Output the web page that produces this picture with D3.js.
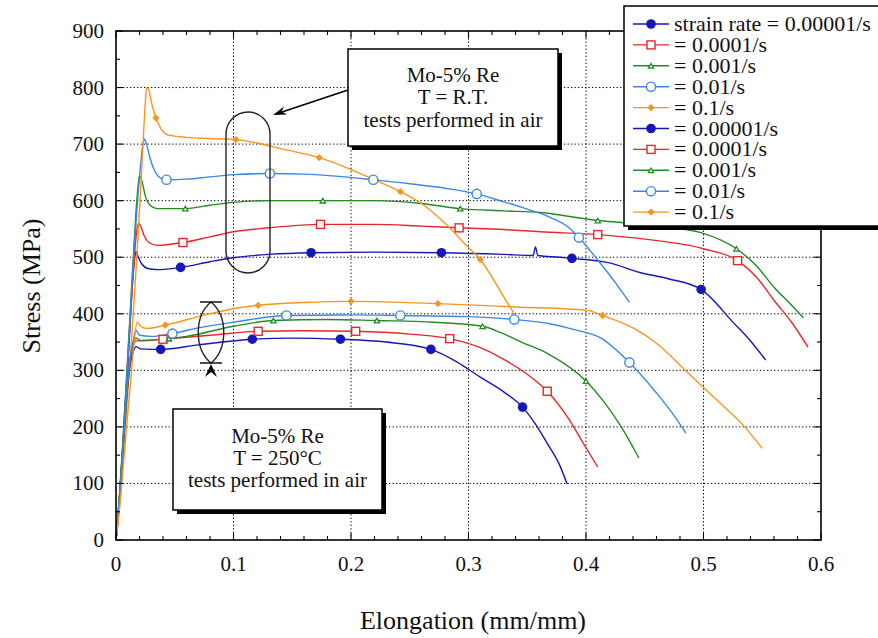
<!DOCTYPE html>
<html>
<head>
<meta charset="utf-8">
<script src="https://cdn.jsdelivr.net/npm/d3@7"></script>
<style>
  body { margin: 0; background: #fff; }
  svg, svg text { font-family: "Liberation Serif", "Tinos", "Times New Roman", Times, "DejaVu Serif", serif; }
  svg text { fill: #111; }
</style>
</head>
<body>
<svg id="chart" width="878" height="638" font-family="Liberation Serif, Times New Roman, serif"></svg>
<script>
// strain rates, one colour + symbol each
const rates = ["0.00001/s", "0.0001/s", "0.001/s", "0.01/s", "0.1/s"];
const colors = ["#1717b8", "#e8262b", "#228b22", "#3c87e6", "#f7951e"];
const symbols = ["dot", "square", "triangle", "circle", "diamond"];

const xTicks = [0, 0.1, 0.2, 0.3, 0.4, 0.5, 0.6];
const yTicks = [0, 100, 200, 300, 400, 500, 600, 700, 800, 900];

// room temperature curves [strain, stress]
const rtBlue = [[0,0],[0.003,70],[0.006,170],[0.009,270],[0.012,380],[0.014,455],[0.016,500],[0.017,510],[0.019,500],[0.022,488],[0.027,480],[0.035,478],[0.055,482],[0.08,492],[0.1,499],[0.13,505],[0.166,508],[0.22,509],[0.277,508],[0.33,505],[0.355,503],[0.357,518],[0.359,503],[0.378,500],[0.388,498],[0.42,490],[0.446,473],[0.47,462],[0.498,443],[0.526,383],[0.54,352],[0.553,318]];
const rtRed = [[0,0],[0.003,75],[0.006,175],[0.009,280],[0.012,390],[0.015,480],[0.017,535],[0.019,560],[0.021,555],[0.024,538],[0.028,526],[0.035,521],[0.057,526],[0.08,536],[0.1,545],[0.13,552],[0.174,558],[0.22,558],[0.26,555],[0.292,552],[0.33,549],[0.361,545],[0.41,540],[0.45,532],[0.5,515],[0.529,494],[0.545,465],[0.56,424],[0.575,385],[0.589,341]];
const rtGreen = [[0,0],[0.003,80],[0.006,180],[0.009,290],[0.012,400],[0.015,510],[0.017,580],[0.019,630],[0.02,644],[0.022,635],[0.025,608],[0.029,592],[0.035,586],[0.059,586],[0.08,592],[0.1,597],[0.13,600],[0.176,600],[0.22,600],[0.26,595],[0.293,586],[0.33,582],[0.361,579],[0.41,565],[0.432,561],[0.47,553],[0.497,544],[0.528,515],[0.545,485],[0.56,447],[0.575,415],[0.585,393]];
const rtLightBlue = [[0,0],[0.003,75],[0.006,170],[0.009,280],[0.012,390],[0.015,500],[0.018,590],[0.021,665],[0.023,702],[0.024,709],[0.026,700],[0.029,675],[0.033,652],[0.038,640],[0.043,637],[0.06,638],[0.08,642],[0.1,646],[0.131,648],[0.16,647],[0.19,643],[0.219,637],[0.25,630],[0.28,622],[0.307,612],[0.33,598],[0.35,585],[0.37,570],[0.385,553],[0.394,535],[0.41,495],[0.425,455],[0.437,420]];
const rtOrange = [[0,0],[0.003,60],[0.006,140],[0.009,230],[0.012,320],[0.015,410],[0.018,510],[0.021,620],[0.023,700],[0.025,775],[0.026,800],[0.028,796],[0.03,775],[0.034,746],[0.038,728],[0.045,716],[0.06,712],[0.08,710],[0.102,708],[0.12,702],[0.14,692],[0.173,676],[0.2,655],[0.22,637],[0.242,616],[0.26,595],[0.28,560],[0.3,517],[0.31,496],[0.32,465],[0.33,430],[0.342,390]];

// 250 C curves
const htBlue = [[0,0],[0.003,70],[0.006,160],[0.009,250],[0.012,310],[0.015,335],[0.017,342],[0.021,338],[0.038,337],[0.07,345],[0.116,355],[0.15,357],[0.191,355],[0.23,350],[0.268,337],[0.29,315],[0.31,288],[0.33,262],[0.346,235],[0.357,205],[0.367,171],[0.377,135],[0.384,99]];
const htRed = [[0,0],[0.003,75],[0.006,165],[0.009,255],[0.012,315],[0.015,345],[0.017,352],[0.021,352],[0.04,355],[0.08,362],[0.121,369],[0.16,370],[0.204,369],[0.25,364],[0.284,356],[0.31,340],[0.327,323],[0.35,293],[0.367,263],[0.385,215],[0.398,170],[0.41,129]];
const htGreen = [[0,0],[0.003,80],[0.006,170],[0.009,260],[0.012,320],[0.015,350],[0.017,357],[0.021,353],[0.045,356],[0.06,360],[0.1,378],[0.134,388],[0.18,390],[0.222,388],[0.27,385],[0.312,378],[0.327,367],[0.345,350],[0.367,330],[0.4,281],[0.415,245],[0.43,200],[0.445,145]];
const htLightBlue = [[0,0],[0.003,75],[0.006,165],[0.009,255],[0.012,320],[0.014,345],[0.017,371],[0.02,362],[0.03,360],[0.048,365],[0.07,375],[0.1,385],[0.145,397],[0.2,398],[0.242,397],[0.3,395],[0.339,390],[0.37,382],[0.39,372],[0.412,358],[0.437,314],[0.46,260],[0.475,220],[0.485,189]];
const htOrange = [[0,0],[0.003,55],[0.006,125],[0.009,200],[0.012,270],[0.015,340],[0.018,385],[0.021,378],[0.026,374],[0.042,380],[0.07,395],[0.1,409],[0.121,415],[0.16,420],[0.2,422],[0.274,418],[0.34,412],[0.401,406],[0.414,397],[0.44,375],[0.46,348],[0.486,297],[0.51,250],[0.535,200],[0.55,162]];

// marker positions
const rtBlueMarks = [[0.055,482],[0.166,508],[0.277,508],[0.388,498],[0.498,443]];
const rtRedMarks = [[0.057,526],[0.174,558],[0.292,552],[0.41,540],[0.529,494]];
const rtGreenMarks = [[0.059,586],[0.176,600],[0.293,586],[0.41,565],[0.528,515]];
const rtLightBlueMarks = [[0.043,637],[0.131,648],[0.219,637],[0.307,612],[0.394,535]];
const rtOrangeMarks = [[0.034,746],[0.102,708],[0.173,676],[0.242,616],[0.31,496]];
const htBlueMarks = [[0.038,337],[0.116,355],[0.191,355],[0.268,337],[0.346,235]];
const htRedMarks = [[0.04,355],[0.121,369],[0.204,369],[0.284,356],[0.367,263]];
const htGreenMarks = [[0.045,356],[0.134,388],[0.222,388],[0.312,378],[0.4,281]];
const htLightBlueMarks = [[0.048,365],[0.145,397],[0.242,397],[0.339,390],[0.437,314]];
const htOrangeMarks = [[0.042,380],[0.121,415],[0.2,422],[0.274,418],[0.414,397]];

const legendLabels = ["strain rate = 0.00001/s", "= 0.0001/s", "= 0.001/s", "= 0.01/s", "= 0.1/s",
                      "= 0.00001/s", "= 0.0001/s", "= 0.001/s", "= 0.01/s", "= 0.1/s"];

const series = [
  {k: 0, d: rtBlue, m: rtBlueMarks}, {k: 1, d: rtRed, m: rtRedMarks}, {k: 2, d: rtGreen, m: rtGreenMarks},
  {k: 3, d: rtLightBlue, m: rtLightBlueMarks}, {k: 4, d: rtOrange, m: rtOrangeMarks},
  {k: 0, d: htBlue, m: htBlueMarks}, {k: 1, d: htRed, m: htRedMarks}, {k: 2, d: htGreen, m: htGreenMarks},
  {k: 3, d: htLightBlue, m: htLightBlueMarks}, {k: 4, d: htOrange, m: htOrangeMarks}
];

const L = 116, R = 821, T = 31, B = 540;
const x = d3.scaleLinear().domain([0, 0.6]).range([L, R]);
const y = d3.scaleLinear().domain([0, 900]).range([B, T]);

const svg = d3.select("#chart");

// dotted grid
const grid = svg.append("g");
grid.selectAll(".vx").data(xTicks.slice(1, -1)).join("line")
  .attr("x1", d => x(d)).attr("x2", d => x(d)).attr("y1", B).attr("y2", T)
  .attr("stroke", "#000").attr("stroke-width", 1).attr("stroke-dasharray", "1.3,2.2");
grid.selectAll(".hy").data(yTicks.slice(1, -1)).join("line")
  .attr("x1", L).attr("x2", R).attr("y1", d => y(d)).attr("y2", d => y(d))
  .attr("stroke", "#000").attr("stroke-width", 1).attr("stroke-dasharray", "1.3,2.2");

// curves
const line = d3.line().x(d => x(d[0])).y(d => y(d[1])).curve(d3.curveMonotoneX);
svg.append("g").selectAll("path").data(series).join("path")
  .attr("d", s => line(s.d))
  .attr("fill", "none")
  .attr("stroke", s => colors[s.k])
  .attr("stroke-width", 1.4)
  .attr("stroke-linejoin", "round");

function drawMarker(g, k, cx, cy) {
  const c = colors[k];
  const t = symbols[k];
  if (t === "dot") {
    g.append("circle").attr("cx", cx).attr("cy", cy).attr("r", 4.8).attr("fill", c);
  } else if (t === "circle") {
    g.append("circle").attr("cx", cx).attr("cy", cy).attr("r", 4.6)
      .attr("fill", "#fff").attr("stroke", c).attr("stroke-width", 1.4);
  } else if (t === "square") {
    g.append("rect").attr("x", cx - 4).attr("y", cy - 4).attr("width", 8).attr("height", 8)
      .attr("fill", "#fff").attr("stroke", c).attr("stroke-width", 1.4);
  } else if (t === "triangle") {
    g.append("path").attr("transform", `translate(${cx},${cy + 0.8})`)
      .attr("d", d3.symbol(d3.symbolTriangle2, 20)())
      .attr("fill", "#fff").attr("stroke", c).attr("stroke-width", 1.3);
  } else {
    g.append("path").attr("transform", `translate(${cx},${cy})`)
      .attr("d", d3.symbol(d3.symbolDiamond2, 34)())
      .attr("fill", c);
  }
}

const mk = svg.append("g");
series.forEach(s => s.m.forEach(p => drawMarker(mk, s.k, x(p[0]), y(p[1]))));

// frame and ticks
svg.append("rect").attr("x", L).attr("y", T).attr("width", R - L).attr("height", B - T)
  .attr("fill", "none").attr("stroke", "#000").attr("stroke-width", 1.6);

const ax = svg.append("g").attr("stroke", "#000").attr("stroke-width", 1.1);
const xMinor = d3.range(0, 31).map(i => i * 0.02);
const yMinor = d3.range(0, 19).map(i => i * 50);
xMinor.forEach((v, i) => {
  const len = i % 5 === 0 ? 7 : 4;
  ax.append("line").attr("x1", x(v)).attr("x2", x(v)).attr("y1", B).attr("y2", B - len);
  ax.append("line").attr("x1", x(v)).attr("x2", x(v)).attr("y1", T).attr("y2", T + len);
});
yMinor.forEach((v, i) => {
  const len = i % 2 === 0 ? 7 : 4;
  ax.append("line").attr("y1", y(v)).attr("y2", y(v)).attr("x1", L).attr("x2", L + len);
  ax.append("line").attr("y1", y(v)).attr("y2", y(v)).attr("x1", R).attr("x2", R - len);
});

svg.append("g").selectAll("text").data(xTicks).join("text")
  .attr("x", d => x(d)).attr("y", 571).attr("text-anchor", "middle")
  .attr("font-size", 21).text(d => d === 0 ? "0" : d3.format(".1f")(d));
svg.append("g").selectAll("text").data(yTicks).join("text")
  .attr("x", 104).attr("y", d => y(d) + 7).attr("text-anchor", "end")
  .attr("font-size", 21).text(d => d);

svg.append("text").attr("x", 473).attr("y", 629).attr("text-anchor", "middle")
  .attr("font-size", 26).text("Elongation (mm/mm)");
svg.append("text").attr("transform", "translate(40,286) rotate(-90)").attr("text-anchor", "middle")
  .attr("font-size", 26).text("Stress (MPa)");

// annotation boxes
function box(x0, y0, w, h, lines, lineY) {
  svg.append("rect").attr("x", x0 + 4).attr("y", y0 + 4).attr("width", w).attr("height", h).attr("fill", "#000");
  svg.append("rect").attr("x", x0).attr("y", y0).attr("width", w).attr("height", h)
    .attr("fill", "#fff").attr("stroke", "#000").attr("stroke-width", 1.5);
  lines.forEach((t, i) => svg.append("text").attr("x", x0 + w / 2).attr("y", lineY[i])
    .attr("text-anchor", "middle").attr("font-size", 21).text(t));
}
box(348, 49, 210, 97, ["Mo-5% Re", "T = R.T.", "tests performed in air"], [82, 104, 127]);
box(173, 409, 209, 101, ["Mo-5% Re", "T = 250°C", "tests performed in air"], [443, 465, 487]);

// RT stadium + arrow
svg.append("rect").attr("x", 226).attr("y", 112).attr("width", 44).attr("height", 161)
  .attr("rx", 22).attr("ry", 22).attr("fill", "none").attr("stroke", "#222").attr("stroke-width", 1.4);
svg.append("line").attr("x1", 348).attr("y1", 90).attr("x2", 282).attr("y2", 112)
  .attr("stroke", "#000").attr("stroke-width", 1.4);
svg.append("path").attr("d", "M273,115 L284,106.5 L281.5,111.5 L287,114.5 Z").attr("fill", "#000");

// 250 C lens marker
svg.append("path").attr("d", "M211,302 C194,316 194,349 211,363 C228,349 228,316 211,302")
  .attr("fill", "none").attr("stroke", "#222").attr("stroke-width", 1.4);
svg.append("line").attr("x1", 200).attr("x2", 222).attr("y1", 302).attr("y2", 302).attr("stroke", "#000").attr("stroke-width", 1.4);
svg.append("line").attr("x1", 200).attr("x2", 222).attr("y1", 363).attr("y2", 363).attr("stroke", "#000").attr("stroke-width", 1.4);
svg.append("path").attr("d", "M211,364 L205,377 L211,372 L217,377 Z").attr("fill", "#000");

// legend
const lg = svg.append("g");
lg.append("rect").attr("x", 628).attr("y", 10).attr("width", 262).attr("height", 220).attr("fill", "#000");
lg.append("rect").attr("x", 624).attr("y", 6).attr("width", 262).attr("height", 220)
  .attr("fill", "#fff").attr("stroke", "#000").attr("stroke-width", 1.5);
legendLabels.forEach((t, i) => {
  const k = i % 5;
  const yy = 24 + i * 20.9;
  lg.append("line").attr("x1", 633).attr("x2", 669).attr("y1", yy).attr("y2", yy)
    .attr("stroke", colors[k]).attr("stroke-width", 1.4);
  drawMarker(lg, k, 651, yy);
  lg.append("text").attr("x", 674).attr("y", yy + 7).attr("font-size", 22).text(t);
});
</script>
</body>
</html>
